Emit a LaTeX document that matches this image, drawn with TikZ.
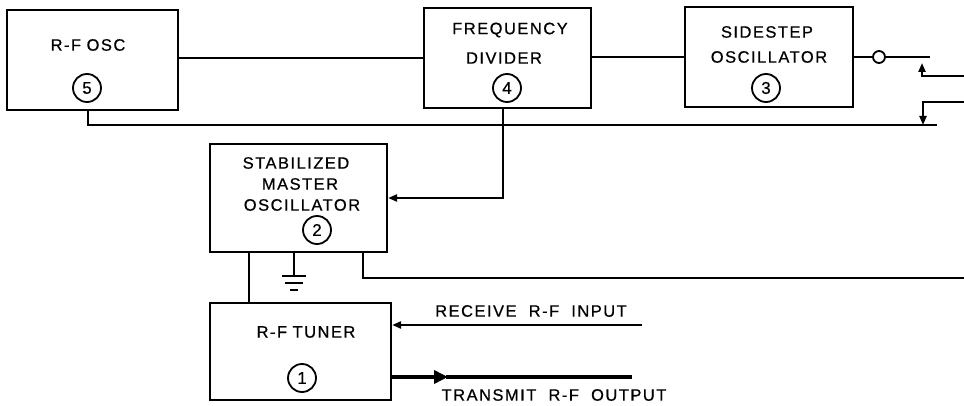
\documentclass[tikz,border=0pt]{standalone}
\usepackage{fontspec}
\newfontfamily\lbl{Liberation Sans}[LetterSpace=9,FakeBold=0.6]
\usetikzlibrary{arrows.meta}
\begin{document}
\begin{tikzpicture}[x=1pt,y=-1pt,
  line width=2.2pt,
  box/.style={draw,rectangle,inner sep=0pt},
  txt/.style={font=\lbl\fontsize{16.5}{18}\selectfont,inner sep=0pt},
  num/.style={draw,circle,line width=1.8pt,minimum size=28pt,inner sep=0pt,font=\lbl\fontsize{17}{18}\selectfont},
  sarrow/.style={-{Triangle[length=9pt,width=7pt]}},
  wire/.style={line width=2.2pt}]
\useasboundingbox (0,0) rectangle (964,406);
% boxes
\node[box,minimum width=171pt,minimum height=100pt] (rfosc) at (92.5,60) {};
\node[box,minimum width=167pt,minimum height=100pt] (fd) at (507.5,58) {};
\node[box,minimum width=168pt,minimum height=100pt] (ss) at (769,57) {};
\node[box,minimum width=177pt,minimum height=108pt] (smo) at (298.5,198) {};
\node[box,minimum width=181pt,minimum height=97pt] (tun) at (300.5,351.5) {};
% texts
\node[txt] (t5) at (88,45) {R-F\,\,OSC};
\node[num] (n5) at (87,88) {5};
\node[txt] (t4a) at (510,30) {FREQUENCY};
\node[txt] (t4b) at (504,58) {DIVIDER};
\node[num] (n4) at (507,88) {4};
\node[txt] (t3a) at (767,32) {SIDESTEP};
\node[txt] (t3b) at (769,57) {OSCILLATOR};
\node[num] (n3) at (766,88) {3};
\node[txt] (t2a) at (296,163) {STABILIZED};
\node[txt] (t2b) at (300,184) {MASTER};
\node[txt] (t2c) at (302,205) {OSCILLATOR};
\node[num] (n2) at (317,230) {2};
\node[txt] (t1) at (306,332) {R-F\,\,TUNER};
\node[num] (n1) at (302,378) {1};
\node[txt] (rx) at (531,311) {RECEIVE\ \ R-F\ \ INPUT};
\node[txt] (tx) at (554,395) {TRANSMIT\ \ R-F\ \ OUTPUT};
% open circle
\node[draw,circle,line width=1.8pt,minimum size=12pt,inner sep=0pt] (oc) at (879,57) {};
% coordinates
\coordinate (ocend) at (930,57);
\coordinate (b1) at (88,125);
\coordinate (b2) at (937,125);
\coordinate (dn0) at (964,102);
\coordinate (dn1) at (923,102);
\coordinate (dn2) at (923,125);
\coordinate (up0) at (964,76);
\coordinate (up1) at (922,76);
\coordinate (up2) at (922,63);
\coordinate (fdx) at (503,198);
\coordinate (g0) at (294,276);
\coordinate (l3) at (363,278);
\coordinate (l3e) at (964,278);
\coordinate (rxs) at (642,325);
\coordinate (txm) at (448,377);
\coordinate (txe) at (632,377);
% wires
\draw[wire] (rfosc.east |- fd.west) -- (fd.west);
\draw[wire] (fd.east |- ss.west) -- (ss.west);
\draw[wire] (ss.east) -- (oc.west);
\draw[wire] (oc.east) -- (ocend);
\draw[wire] (rfosc.south -| b1) -- (b1) -- (b2);
\draw[wire,sarrow] (dn0) -- (dn1) -- (dn2);
\draw[wire,sarrow] (up0) -- (up1) -- (up2);
\draw[wire,sarrow] (fd.south -| fdx) -- (fdx) -- (smo.east |- fdx);
\draw[wire] (smo.south -| 249,0) -- (tun.north -| 249,0);
\draw[wire] (smo.south -| g0) -- (g0);
\draw[wire] (smo.south -| l3) -- (l3) -- (l3e);
% ground symbol
\draw[wire] (282,276) -- (306,276);
\draw[wire] (285,283) -- (303,283);
\draw[wire] (290,290) -- (298,290);
% receive / transmit
\draw[wire,sarrow] (rxs) -- (tun.east |- rxs);
\draw[line width=3.8pt,-{Triangle[length=14pt,width=13pt]}] (tun.east |- txm) -- (txm);
\draw[line width=3.8pt] ([xshift=-2pt]txm) -- (txe);
\end{tikzpicture}
\end{document}
